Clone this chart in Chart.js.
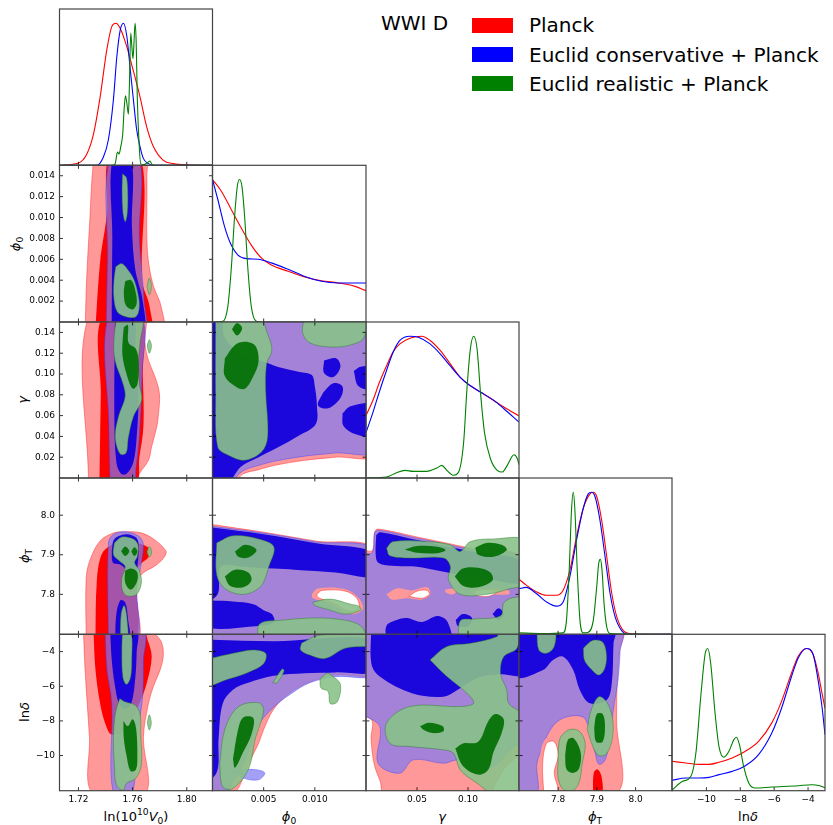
<!DOCTYPE html>
<html lang="en">
<head>
<meta charset="UTF-8">
<title>WWI D triangle plot</title>
<script src="https://cdn.jsdelivr.net/npm/chart.js"></script>
<style>
  body { margin: 0; background: #fff; }
  #fig { position: relative; width: 833px; height: 825px; font-family: "DejaVu Sans", sans-serif; color: #000; overflow: hidden; }
  #fig canvas { position: absolute; }
  .xlab, .ylab { position: absolute; font-size: 13px; line-height: 1; white-space: nowrap; }
  .xlab { transform: translate(-50%, -50%); }
  .ylab { transform: translate(-50%, -50%) rotate(-90deg); }
  .leg { position: absolute; font-size: 20px; line-height: 20px; white-space: nowrap; }
  .patch { position: absolute; left: 472px; width: 41px; height: 15px; }
  sub, sup { font-size: 70%; line-height: 0; }
</style>
</head>
<body>
<div id="fig">
  <div class="leg" style="left:381px;top:13px">WWI D</div>
  <div class="patch" style="top:18px;background:#ff0000"></div>
  <div class="leg" style="left:529px;top:15px">Planck</div>
  <div class="patch" style="top:47px;background:#0000ff"></div>
  <div class="leg" style="left:529px;top:45px">Euclid conservative + Planck</div>
  <div class="patch" style="top:76px;background:#008000"></div>
  <div class="leg" style="left:529px;top:74px">Euclid realistic + Planck</div>

  <div class="xlab" style="left:136px;top:816px">ln(10<sup>10</sup><i>V</i><sub>0</sub>)</div>
  <div class="xlab" style="left:289px;top:816px"><i>ϕ</i><sub>0</sub></div>
  <div class="xlab" style="left:442px;top:816px"><i>γ</i></div>
  <div class="xlab" style="left:595px;top:816px"><i>ϕ</i><sub>T</sub></div>
  <div class="xlab" style="left:748px;top:816px">ln<i>δ</i></div>

  <div class="ylab" style="left:15px;top:244px"><i>ϕ</i><sub>0</sub></div>
  <div class="ylab" style="left:22px;top:400px"><i>γ</i></div>
  <div class="ylab" style="left:24px;top:556px"><i>ϕ</i><sub>T</sub></div>
  <div class="ylab" style="left:24px;top:712px">ln<i>δ</i></div>
</div>

<script>
// ---- axes: ranges, ticks, tick labels ----
const v0Range = [1.706, 1.819];
const v0Ticks = [1.72, 1.76, 1.80];
const v0Labels = ['1.72', '1.76', '1.80'];

const phi0Range = [0, 0.015];
const phi0XTicks = [0.005, 0.010];
const phi0XLabels = ['0.005', '0.010'];
const phi0YTicks = [0.002, 0.004, 0.006, 0.008, 0.010, 0.012, 0.014];
const phi0YLabels = ['0.002', '0.004', '0.006', '0.008', '0.010', '0.012', '0.014'];

const gammaRange = [0, 0.15];
const gammaXTicks = [0.05, 0.10];
const gammaXLabels = ['0.05', '0.10'];
const gammaYTicks = [0.02, 0.04, 0.06, 0.08, 0.10, 0.12, 0.14];
const gammaYLabels = ['0.02', '0.04', '0.06', '0.08', '0.10', '0.12', '0.14'];

const phiTRange = [7.699, 8.094];
const phiTTicks = [7.8, 7.9, 8.0];
const phiTLabels = ['7.8', '7.9', '8.0'];

const lnDRange = [-12.03, -3.0];
const lnDTicks = [-10, -8, -6, -4];
const lnDLabels = ['\u221210', '\u22128', '\u22126', '\u22124'];

// ---- 1D marginals [x, P/Pmax] ----
const diagV0Red = [[1.7065,0],[1.72,0.016],[1.7262,0.08],[1.7311,0.22],[1.736,0.48],[1.7409,0.81],[1.7446,0.976],[1.7476,1.0],[1.7508,0.965],[1.7557,0.835],[1.7601,0.68],[1.7655,0.48],[1.7704,0.27],[1.7754,0.13],[1.7827,0.035],[1.7901,0.012],[1.80,0.003],[1.819,0]];
const diagV0Blue = [[1.7065,0],[1.7335,0],[1.7385,0.06],[1.7421,0.18],[1.7458,0.46],[1.7483,0.76],[1.7508,0.95],[1.7532,1.0],[1.7557,0.91],[1.7581,0.69],[1.7606,0.46],[1.763,0.25],[1.7655,0.13],[1.768,0.047],[1.7717,0.012],[1.7754,0],[1.819,0]];
const diagV0Green = [[1.7065,0],[1.7446,0],[1.7471,0.01],[1.7488,0.094],[1.75,0.08],[1.7512,0.13],[1.7527,0.22],[1.7537,0.39],[1.7547,0.49],[1.7557,0.44],[1.7569,0.36],[1.7576,0.55],[1.7586,0.93],[1.7594,0.84],[1.7603,0.75],[1.7611,0.88],[1.7618,1.0],[1.7626,0.88],[1.7635,0.46],[1.7648,0.15],[1.766,0.01],[1.7685,0.005],[1.7717,0.024],[1.7729,0.03],[1.7741,0.008],[1.7766,0],[1.819,0]];

const diagPhi0Red = [[0,1.0],[0.00085,0.92],[0.00183,0.79],[0.00281,0.66],[0.00379,0.54],[0.00477,0.45],[0.00575,0.40],[0.00739,0.356],[0.00902,0.316],[0.01065,0.29],[0.01229,0.274],[0.01392,0.25],[0.015,0.22]];
const diagPhi0Blue = [[0,1.0],[0.00052,0.86],[0.00118,0.67],[0.00183,0.54],[0.00248,0.47],[0.0033,0.445],[0.00444,0.44],[0.00575,0.415],[0.00739,0.37],[0.00902,0.32],[0.01065,0.286],[0.01229,0.274],[0.015,0.274]];
const diagPhi0Green = [[0,0],[0.00101,0.005],[0.0015,0.11],[0.00183,0.37],[0.00216,0.74],[0.00242,0.95],[0.00265,1.0],[0.00288,0.95],[0.00314,0.74],[0.00346,0.37],[0.00379,0.11],[0.00428,0.005],[0.00477,0],[0.015,0]];

const diagGammaRed = [[0,0.44],[0.0069,0.55],[0.0135,0.68],[0.0201,0.79],[0.0266,0.89],[0.0332,0.946],[0.0431,0.986],[0.0546,1.0],[0.0628,0.97],[0.0727,0.90],[0.0826,0.805],[0.0924,0.71],[0.1023,0.65],[0.1122,0.606],[0.1253,0.547],[0.1352,0.5],[0.15,0.437]];
const diagGammaBlue = [[0,0.32],[0.0069,0.465],[0.0135,0.617],[0.0201,0.758],[0.0266,0.887],[0.0332,0.97],[0.0431,1.0],[0.0513,0.993],[0.0628,0.946],[0.0727,0.876],[0.0826,0.79],[0.0924,0.71],[0.1023,0.65],[0.1122,0.606],[0.1253,0.547],[0.1352,0.488],[0.15,0.394]];
const diagGammaGreen = [[0,0],[0.0201,0.007],[0.0299,0.037],[0.0382,0.054],[0.0464,0.047],[0.0595,0.047],[0.0694,0.07],[0.0743,0.089],[0.0793,0.054],[0.0859,0.019],[0.0908,0.042],[0.0957,0.25],[0.099,0.63],[0.1023,0.91],[0.1056,1.0],[0.1089,0.91],[0.1122,0.606],[0.1161,0.324],[0.122,0.136],[0.1286,0.054],[0.1336,0.042],[0.1385,0.089],[0.1451,0.164],[0.1484,0.136],[0.15,0.094]];

const diagPhiTRed = [[7.698,0.39],[7.7177,0.346],[7.7437,0.30],[7.7697,0.275],[7.7957,0.275],[7.813,0.31],[7.8303,0.45],[7.8476,0.687],[7.8649,0.887],[7.8823,0.988],[7.8909,1.0],[7.8996,0.97],[7.9126,0.80],[7.9255,0.546],[7.9385,0.287],[7.9515,0.122],[7.9688,0.024],[7.9861,0.005],[8.0208,0],[8.095,0]];
const diagPhiTBlue = [[7.698,0.32],[7.7177,0.33],[7.7437,0.287],[7.7697,0.228],[7.7957,0.198],[7.813,0.228],[7.8303,0.405],[7.8476,0.663],[7.8649,0.887],[7.8779,0.988],[7.8866,1.0],[7.8952,0.97],[7.9082,0.80],[7.9212,0.546],[7.9342,0.287],[7.9472,0.122],[7.9645,0.024],[7.9818,0],[8.095,0]];
const diagPhiTGreen = [[7.698,0.01],[7.761,0.005],[7.813,0.01],[7.8216,0.1],[7.8286,0.45],[7.8346,0.875],[7.839,1.0],[7.8433,0.875],[7.8494,0.45],[7.8563,0.1],[7.8649,0.01],[7.8779,0.015],[7.8909,0.1],[7.8996,0.334],[7.9048,0.5],[7.9091,0.527],[7.9134,0.45],[7.9186,0.216],[7.9255,0.052],[7.9342,0.005],[8.095,0]];

const diagLnDRed = [[-12.03,0.207],[-11.21,0.195],[-10.43,0.185],[-9.84,0.185],[-9.26,0.2],[-8.48,0.23],[-7.70,0.277],[-6.92,0.347],[-6.14,0.477],[-5.56,0.63],[-4.97,0.83],[-4.58,0.946],[-4.09,1.0],[-3.70,0.958],[-3.41,0.83],[-3.18,0.688],[-3.0,0.58]];
const diagLnDBlue = [[-12.03,0.073],[-11.21,0.089],[-10.43,0.089],[-9.84,0.094],[-9.26,0.113],[-8.48,0.136],[-7.70,0.176],[-6.92,0.254],[-6.14,0.406],[-5.56,0.582],[-4.97,0.805],[-4.58,0.934],[-4.09,1.0],[-3.70,0.958],[-3.41,0.78],[-3.18,0.594],[-3.0,0.394]];
const diagLnDGreen = [[-12.03,0.005],[-11.40,0.066],[-10.92,0.1],[-10.62,0.265],[-10.33,0.664],[-10.08,0.958],[-9.92,1.0],[-9.75,0.9],[-9.49,0.547],[-9.26,0.312],[-8.97,0.235],[-8.67,0.277],[-8.38,0.359],[-8.23,0.376],[-8.05,0.324],[-7.80,0.171],[-7.50,0.054],[-7.12,0.019],[-6.14,0.026],[-4.58,0.035],[-3.80,0.042],[-3.31,0.035],[-3.0,0.02]];

// ---- 2D contours: polygons of [x, y] vertices ----
// ln(10^10 V0) vs phi0
const v0Phi0RedOut = [[[1.7249,-0.001],[1.726,0.004],[1.7285,0.010],[1.7305,0.0145],[1.733,0.0158],[1.769,0.0158],[1.7705,0.014],[1.7705,0.008],[1.772,0.0055],[1.7755,0.0034],[1.781,0.0015],[1.7815,-0.001]]];
const v0Phi0RedIn = [[[1.7323,-0.001],[1.736,0.0058],[1.741,0.0104],[1.743,0.0158],[1.766,0.0158],[1.767,0.004],[1.7725,0.0015],[1.7725,-0.001]]];
const v0Phi0BlueOut = [[[1.7404,-0.001],[1.7415,0.006],[1.7434,0.0158],[1.7643,0.0158],[1.765,0.008],[1.7685,0.002],[1.7685,-0.001]]];
const v0Phi0BlueIn = [[[1.7445,-0.001],[1.745,0.008],[1.7455,0.0158],[1.7586,0.0158],[1.7595,0.009],[1.762,0.005],[1.7675,0.002],[1.7675,-0.001]]];
const v0Phi0GreenOut = [
  [[1.7525,0.0142],[1.7555,0.0138],[1.7565,0.012],[1.756,0.0103],[1.7545,0.0096],[1.7528,0.0105],[1.7522,0.0125]],
  [[1.7475,0.0053],[1.752,0.0056],[1.7565,0.005],[1.7605,0.0042],[1.7635,0.003],[1.765,0.0015],[1.7625,0.0005],[1.755,0.0005],[1.7485,0.001],[1.746,0.0025],[1.7462,0.004]],
  [[1.7707,0.0034],[1.7723,0.0042],[1.7739,0.0034],[1.7723,0.0026]]];
const v0Phi0GreenIn = [[[1.7545,0.0039],[1.759,0.004],[1.762,0.003],[1.763,0.0018],[1.760,0.0012],[1.755,0.0016],[1.7535,0.0028]]];

// ln(10^10 V0) vs gamma
const v0GammaRedOut = [[[1.7274,-0.005],[1.7274,0.155],[1.768,0.155],[1.769,0.13],[1.7717,0.113],[1.7766,0.097],[1.7798,0.081],[1.779,0.06],[1.7778,0.049],[1.774,0.03],[1.7717,0.017],[1.765,0.004],[1.763,-0.005]]];
const v0GammaRedIn = [[[1.7355,-0.005],[1.7365,0.08],[1.7375,0.155],[1.766,0.155],[1.7675,0.10],[1.768,0.05],[1.765,0.02],[1.762,-0.005]]];
const v0GammaBlueOut = [[[1.7434,-0.005],[1.7425,0.05],[1.7421,0.155],[1.7667,0.155],[1.767,0.10],[1.765,0.04],[1.7625,0.01],[1.7605,-0.005]]];
const v0GammaBlueIn = [[[1.747,0.155],[1.7605,0.155],[1.762,0.11],[1.7643,0.08],[1.763,0.04],[1.7605,0.015],[1.7555,0.004],[1.7515,0.004],[1.748,0.015],[1.7465,0.06]]];
const v0GammaGreenOut = [
  [[1.748,0.155],[1.7463,0.133],[1.747,0.113],[1.753,0.090],[1.7544,0.078],[1.7495,0.059],[1.7471,0.039],[1.7508,0.023],[1.7552,0.024],[1.7569,0.039],[1.7606,0.059],[1.7667,0.075],[1.765,0.09],[1.7643,0.113],[1.7655,0.13],[1.7667,0.155]],
  [[1.7707,0.127],[1.7723,0.133],[1.7739,0.127],[1.7723,0.120]]];
const v0GammaGreenIn = [[[1.7535,0.145],[1.7565,0.147],[1.757,0.13],[1.7625,0.124],[1.7645,0.11],[1.7635,0.09],[1.760,0.086],[1.7555,0.10],[1.7525,0.118],[1.7528,0.135]]];

// ln(10^10 V0) vs phi_T
const v0PhiTRedOut = [[[1.7257,7.68],[1.7257,7.84],[1.7286,7.8875],[1.736,7.935],[1.7458,7.955],[1.7532,7.958],[1.7655,7.956],[1.7754,7.94],[1.7845,7.91],[1.7835,7.895],[1.7778,7.875],[1.7655,7.846],[1.763,7.80],[1.763,7.68]]];
const v0PhiTRedIn = [[[1.7325,7.68],[1.7335,7.83],[1.737,7.90],[1.7445,7.925],[1.756,7.935],[1.7655,7.928],[1.7725,7.915],[1.772,7.895],[1.7655,7.875],[1.7625,7.85],[1.7615,7.68]]];
const v0PhiTBlueOut = [[[1.7421,7.68],[1.7421,7.93],[1.746,7.952],[1.7544,7.958],[1.762,7.952],[1.7665,7.94],[1.768,7.92],[1.7655,7.86],[1.763,7.82],[1.763,7.68]]];
const v0PhiTBlueIn = [
  [[1.7446,7.91],[1.7465,7.94],[1.755,7.952],[1.762,7.945],[1.7643,7.93],[1.7635,7.87],[1.761,7.845],[1.7565,7.86],[1.751,7.875],[1.7455,7.88]],
  [[1.747,7.68],[1.748,7.75],[1.751,7.785],[1.7545,7.78],[1.7565,7.74],[1.7575,7.68]]];
const v0PhiTGreenOut = [
  [[1.7465,7.93],[1.752,7.945],[1.7605,7.94],[1.764,7.925],[1.7635,7.895],[1.7615,7.88],[1.765,7.86],[1.7665,7.83],[1.763,7.80],[1.756,7.796],[1.7525,7.81],[1.752,7.84],[1.7545,7.87],[1.750,7.885],[1.7458,7.90]],
  [[1.7508,7.68],[1.7515,7.75],[1.7537,7.772],[1.7555,7.75],[1.7562,7.68]],
  [[1.7705,7.907],[1.7723,7.921],[1.7741,7.907],[1.7723,7.894]]];
const v0PhiTGreenIn = [
  [[1.7515,7.909],[1.7545,7.921],[1.7575,7.909],[1.7545,7.897]],
  [[1.759,7.908],[1.7613,7.919],[1.7636,7.908],[1.7613,7.897]],
  [[1.7545,7.86],[1.759,7.865],[1.7635,7.855],[1.763,7.83],[1.7585,7.812],[1.7545,7.83]]];

// ln(10^10 V0) vs ln delta
const v0LnDRedOut = [[[1.7237,-2.8],[1.7249,-5.06],[1.7281,-8.9],[1.7306,-12.2],[1.7692,-12.2],[1.768,-8.9],[1.7717,-6.98],[1.7754,-6.0],[1.7803,-5.06],[1.7827,-4.2],[1.781,-3.4],[1.775,-2.9],[1.772,-2.8]]];
const v0LnDRedIn = [[[1.7311,-2.8],[1.7325,-5.0],[1.736,-7.0],[1.740,-8.2],[1.7446,-8.8],[1.755,-8.5],[1.765,-7.0],[1.7704,-5.83],[1.7741,-4.3],[1.771,-3.3],[1.768,-2.8]]];
const v0LnDBlueOut = [[[1.7397,-2.8],[1.741,-5.0],[1.7446,-7.0],[1.7458,-12.2],[1.7594,-12.2],[1.762,-9.5],[1.765,-8.0],[1.7675,-6.5],[1.768,-4.5],[1.768,-2.8]]];
const v0LnDBlueIn = [[[1.7434,-2.8],[1.7446,-4.5],[1.747,-6.0],[1.750,-7.0],[1.7545,-7.3],[1.759,-7.0],[1.762,-5.5],[1.763,-4.0],[1.763,-2.8]]];
const v0LnDGreenOut = [
  [[1.7525,-2.8],[1.7586,-2.8],[1.7594,-4.5],[1.7585,-5.5],[1.7555,-5.9],[1.7528,-5.5],[1.752,-4.0]],
  [[1.7505,-6.7],[1.7545,-6.9],[1.762,-7.1],[1.7655,-7.6],[1.766,-8.8],[1.7665,-10.5],[1.7625,-11.3],[1.7555,-11.6],[1.753,-12.0],[1.748,-11.7],[1.7465,-10.5],[1.7458,-9.2],[1.7465,-8.0],[1.748,-7.3]],
  [[1.7708,-8.1],[1.7723,-7.65],[1.7738,-8.1],[1.7723,-8.52]]];
const v0LnDGreenIn = [[[1.7532,-8.0],[1.7565,-8.3],[1.760,-7.9],[1.7625,-8.4],[1.7635,-10.0],[1.7625,-10.8],[1.7585,-10.9],[1.7555,-10.0],[1.7535,-9.0]]];

// phi0 vs gamma
const phi0GammaRedOut = [[[-0.001,0.155],[0.016,0.155],[0.016,0.024],[0.012,0.02],[0.009,0.017],[0.006,0.012],[0.0045,0.008],[0.003,0.004],[0.002,-0.005],[-0.001,-0.005]]];
const phi0GammaBlueOut = [[[-0.001,0.155],[0.016,0.155],[0.016,0.0276],[0.012,0.024],[0.009,0.021],[0.006,0.016],[0.0045,0.012],[0.003,0.007],[0.0015,-0.005],[-0.001,-0.005]]];
const phi0GammaBlueIn = [
  [[-0.001,0.155],[0.0008,0.155],[0.0012,0.135],[0.003,0.118],[0.005,0.112],[0.0065,0.1065],[0.0085,0.102],[0.0097,0.099],[0.010,0.088],[0.0102,0.07],[0.0101,0.052],[0.0085,0.041],[0.0065,0.030],[0.0045,0.020],[0.0028,0.011],[0.0014,-0.005],[-0.001,-0.005]],
  [[0.0109,0.113],[0.0121,0.115],[0.0125,0.107],[0.0118,0.097],[0.0109,0.101]],
  [[0.0108,0.082],[0.0118,0.091],[0.0127,0.088],[0.0125,0.077],[0.0113,0.067],[0.0103,0.070]],
  [[0.0138,0.103],[0.0145,0.107],[0.016,0.106],[0.016,0.086],[0.0143,0.088]],
  [[0.0127,0.062],[0.0135,0.069],[0.016,0.07],[0.016,0.040],[0.014,0.042],[0.0128,0.05]]];
const phi0GammaGreenOut = [
  [[0.0003,0.155],[0.0045,0.155],[0.0054,0.138],[0.0058,0.123],[0.0053,0.110],[0.0052,0.085],[0.0054,0.04],[0.0048,0.025],[0.0031,0.017],[0.0015,0.022],[0.0005,0.03],[0.0003,0.08]],
  [[0.009,0.155],[0.0148,0.155],[0.0148,0.135],[0.0135,0.128],[0.0115,0.126],[0.0095,0.13],[0.0088,0.14]]];
const phi0GammaGreenIn = [
  [[0.0012,0.115],[0.0022,0.128],[0.0032,0.131],[0.0042,0.127],[0.0045,0.112],[0.0040,0.098],[0.0032,0.086],[0.0024,0.087],[0.0012,0.098]],
  [[0.0019,0.143],[0.0024,0.149],[0.0029,0.144],[0.0024,0.137]]];

// phi0 vs phi_T
const phi0PhiTRedOut = [[[-0.001,7.98],[0.005,7.957],[0.010,7.935],[0.016,7.91],[0.016,7.68],[-0.001,7.68]]];
const phi0PhiTBlueOut = [[[-0.001,7.975],[0.005,7.955],[0.010,7.933],[0.016,7.907],[0.016,7.68],[-0.001,7.68]]];
const phi0PhiTPink = [[[0.0097,7.80],[0.0103,7.815],[0.013,7.813],[0.0143,7.79],[0.0147,7.762],[0.0135,7.75],[0.0115,7.777],[0.0098,7.79]]];
const phi0PhiTHoles = [[[0.0102,7.80],[0.0107,7.81],[0.013,7.808],[0.0141,7.79],[0.0143,7.765],[0.0135,7.757],[0.0117,7.78],[0.0103,7.792]]];
const phi0PhiTBlueIn = [
  [[-0.001,7.972],[0.005,7.952],[0.010,7.93],[0.016,7.904],[0.016,7.846],[0.012,7.855],[0.008,7.862],[0.006,7.865],[0.003,7.87],[0.0008,7.87],[0.0005,7.80],[-0.001,7.78]],
  [[-0.001,7.785],[0.002,7.782],[0.004,7.775],[0.005,7.76],[0.0058,7.75],[0.006,7.73],[0.0045,7.72],[-0.001,7.72]]];
const phi0PhiTGreenOut = [
  [[0.0004,7.93],[0.002,7.948],[0.0045,7.94],[0.006,7.92],[0.0055,7.87],[0.0047,7.82],[0.003,7.80],[0.0012,7.815],[0.0004,7.85]],
  [[0.0045,7.68],[0.0046,7.725],[0.007,7.735],[0.0095,7.74],[0.012,7.738],[0.0142,7.725],[0.015,7.70],[0.015,7.68]],
  [[0.0098,7.78],[0.0115,7.788],[0.0135,7.775],[0.0143,7.77],[0.0145,7.76],[0.013,7.75],[0.0115,7.76],[0.010,7.772]]];
const phi0PhiTGreenIn = [
  [[0.0022,7.908],[0.0032,7.925],[0.0043,7.912],[0.0035,7.893],[0.0025,7.895]],
  [[0.0012,7.845],[0.0022,7.862],[0.0035,7.855],[0.0038,7.835],[0.003,7.818],[0.0017,7.822]]];

// phi0 vs ln delta
const phi0LnDRedOut = [[[-0.001,-2.8],[0.016,-2.8],[0.016,-5.25],[0.012,-5.35],[0.0095,-5.75],[0.0075,-6.4],[0.006,-7.3],[0.005,-8.5],[0.0045,-9.3],[0.0035,-10.5],[0.003,-11.3],[0.002,-12.2],[-0.001,-12.2]]];
const phi0LnDBlueOut = [
  [[-0.001,-2.8],[0.016,-2.8],[0.016,-5.3],[0.012,-5.45],[0.0095,-5.8],[0.0075,-6.5],[0.006,-7.2],[0.0045,-8.2],[0.004,-9.0],[0.003,-10.5],[0.002,-11.5],[0.0012,-12.2],[-0.001,-12.2]],
  [[0.002,-10.9],[0.004,-10.8],[0.0051,-11.0],[0.0045,-11.4],[0.003,-11.3]]];
const phi0LnDBlueIn = [[[-0.001,-3.3],[0.006,-3.4],[0.016,-3.35],[0.016,-5.1],[0.012,-5.2],[0.009,-5.25],[0.006,-5.4],[0.0035,-5.8],[0.002,-6.2],[0.001,-7],[0.0006,-9],[0.0004,-11],[-0.001,-11.5]]];
const phi0LnDGreenOut = [
  [[-0.001,-4.5],[0.002,-4.1],[0.004,-3.9],[0.0052,-4.1],[0.005,-4.7],[0.0035,-5.2],[0.0015,-5.6],[-0.001,-6.0]],
  [[0.0087,-3.5],[0.0105,-3.05],[0.016,-3.05],[0.016,-3.6],[0.013,-3.8],[0.011,-4.4],[0.0095,-4.2],[0.0086,-3.9]],
  [[0.0059,-5.8],[0.0068,-5.0],[0.007,-5.1],[0.0063,-5.8]],
  [[0.0105,-5.6],[0.0112,-5.25],[0.0117,-5.4],[0.0125,-5.9],[0.0122,-6.9],[0.0115,-7.0],[0.0113,-6.3],[0.0106,-6.1]],
  [[0.0007,-10.5],[0.0012,-8.5],[0.0025,-7.2],[0.0045,-6.95],[0.005,-7.4],[0.0042,-9.0],[0.0035,-10.8],[0.002,-11.9],[0.001,-11.8]]];
const phi0LnDGreenIn = [[[0.002,-10.2],[0.0025,-8.5],[0.003,-7.8],[0.004,-7.85],[0.0038,-8.8],[0.003,-9.8],[0.0022,-10.7]]];

// gamma vs phi_T
const gammaPhiTRedOut = [[[-0.005,7.68],[-0.005,7.91],[0.006,7.91],[0.0085,7.958],[0.012,7.965],[0.05,7.945],[0.10,7.918],[0.155,7.888],[0.155,7.68]]];
const gammaPhiTBlueOut = [[[-0.005,7.68],[-0.005,7.90],[0.006,7.905],[0.0086,7.955],[0.012,7.962],[0.05,7.942],[0.10,7.915],[0.155,7.885],[0.155,7.68]]];
const gammaPhiTPink = [
  [[0.02,7.80],[0.03,7.815],[0.045,7.81],[0.06,7.818],[0.063,7.80],[0.055,7.787],[0.04,7.79],[0.025,7.787]],
  [[0.078,7.812],[0.085,7.815],[0.089,7.81],[0.085,7.80],[0.078,7.805]],
  [[0.104,7.81],[0.12,7.815],[0.14,7.81],[0.14,7.80],[0.12,7.80],[0.104,7.80]]];
const gammaPhiTHoles = [
  [[0.042,7.795],[0.05,7.808],[0.06,7.81],[0.062,7.80],[0.055,7.79]],
  [[0.107,7.81],[0.12,7.812],[0.128,7.805],[0.12,7.795],[0.108,7.798]]];
const gammaPhiTBlueIn = [
  [[0.01,7.95],[0.014,7.957],[0.05,7.937],[0.10,7.91],[0.156,7.882],[0.156,7.83],[0.12,7.838],[0.09,7.85],[0.07,7.86],[0.05,7.87],[0.025,7.872],[0.012,7.88],[0.0095,7.90]],
  [[0.02,7.68],[0.02,7.72],[0.03,7.735],[0.04,7.74],[0.055,7.73],[0.07,7.745],[0.08,7.73],[0.082,7.68]],
  [[0.088,7.735],[0.095,7.75],[0.104,7.74],[0.1,7.72],[0.09,7.72]],
  [[0.124,7.75],[0.13,7.765],[0.135,7.75],[0.13,7.735]]];
const gammaPhiTGreenOut = [
  [[0.0201,7.9167],[0.0266,7.9333],[0.0595,7.9333],[0.0826,7.925],[0.0924,7.9083],[0.1023,7.9333],[0.1253,7.94],[0.156,7.935],[0.156,7.829],[0.1385,7.8125],[0.1188,7.80],[0.0924,7.80],[0.0809,7.8375],[0.0826,7.8708],[0.076,7.8917],[0.0431,7.8917],[0.0234,7.8975]],
  [[0.0908,7.68],[0.0924,7.733],[0.1056,7.7375],[0.1319,7.746],[0.1352,7.779],[0.1451,7.792],[0.156,7.7875],[0.156,7.68]]];
const gammaPhiTGreenIn = [
  [[0.038,7.913],[0.05,7.922],[0.07,7.92],[0.078,7.912],[0.07,7.904],[0.05,7.905]],
  [[0.107,7.918],[0.118,7.93],[0.133,7.925],[0.138,7.912],[0.125,7.895],[0.11,7.9]],
  [[0.087,7.845],[0.095,7.865],[0.11,7.867],[0.122,7.855],[0.124,7.835],[0.11,7.818],[0.095,7.822]]];

// gamma vs ln delta
const gammaLnDRedOut = [[[-0.005,-2.8],[0.155,-2.8],[0.155,-9.4],[0.135,-10.8],[0.128,-11.5],[0.12,-12.2],[0.018,-12.2],[0.014,-11.5],[0.008,-10.5],[0.005,-9.0],[0.006,-8.0],[-0.005,-7.5]]];
const gammaLnDBlueOut = [[[-0.005,-2.8],[0.155,-2.8],[0.155,-9.29],[0.1451,-9.48],[0.1253,-10.63],[0.1089,-10.83],[0.0924,-10.25],[0.076,-10.44],[0.0464,-10.25],[0.0332,-11.02],[0.0118,-10.44],[0.0135,-8.33],[-0.005,-7.37]]];
const gammaLnDBlueIn = [[[0.005,-2.8],[0.156,-2.8],[0.156,-5.3],[0.13,-5.3],[0.11,-5.5],[0.09,-6.2],[0.076,-6.6],[0.045,-6.4],[0.0135,-5.44],[0.0053,-4.7]]];
const gammaLnDGreenOut = [[[0.0628,-4.48],[0.0793,-3.71],[0.1023,-3.52],[0.1286,-3.13],[0.13,-2.8],[0.148,-2.8],[0.148,-3.8],[0.135,-4.3],[0.132,-5.3],[0.138,-6.2],[0.14,-7.0],[0.156,-7.8],[0.156,-12.2],[0.125,-12.2],[0.1089,-11.6],[0.0924,-10.83],[0.0859,-9.87],[0.076,-9.67],[0.0431,-9.48],[0.0234,-9.29],[0.0201,-8.13],[0.0431,-7.17],[0.0924,-7.17],[0.1056,-6.98],[0.099,-6.4],[0.0793,-5.44]]];
const gammaLnDGreenIn = [
  [[0.053,-8.3],[0.062,-8.1],[0.075,-8.3],[0.076,-8.6],[0.065,-8.7],[0.056,-8.5]],
  [[0.0875,-9.6],[0.095,-9.3],[0.11,-9.2],[0.12,-8.0],[0.127,-7.6],[0.135,-7.9],[0.133,-8.7],[0.125,-9.8],[0.12,-10.8],[0.11,-11.1],[0.095,-10.6]]];

// phi_T vs ln delta
const phiTLnDRedOut = [[[7.69,-2.8],[7.965,-2.8],[7.958,-4.0],[7.952,-6.0],[7.951,-8.0],[7.95,-12.2],[7.69,-12.2]]];
const phiTLnDRedIn = [[[7.89,-12.2],[7.892,-11.0],[7.902,-10.8],[7.912,-11.2],[7.913,-12.2]]];
const phiTLnDBlueOut = [[[7.69,-2.8],[7.962,-2.8],[7.96,-4.0],[7.955,-5.6],[7.945,-7.0],[7.935,-8.5],[7.93,-9.5],[7.92,-10.3],[7.905,-10.5],[7.895,-9.8],[7.87,-7.9],[7.84,-7.7],[7.80,-8.0],[7.775,-8.7],[7.76,-9.5],[7.745,-10.5],[7.745,-12.2],[7.69,-12.2]]];
const phiTLnDPink = [[[7.755,-12.2],[7.752,-10.5],[7.765,-9.1],[7.795,-9.0],[7.807,-10],[7.80,-11],[7.805,-12.2]]];
const phiTLnDHoles = [[[7.763,-12.2],[7.76,-10.5],[7.77,-9.3],[7.79,-9.2],[7.80,-10],[7.79,-11],[7.80,-12.2]]];
const phiTLnDBlueIn = [[[7.69,-2.8],[7.945,-2.8],[7.943,-3.52],[7.9385,-5.83],[7.9255,-6.79],[7.882,-6.98],[7.856,-6.21],[7.839,-5.06],[7.813,-4.29],[7.787,-4.48],[7.761,-5.06],[7.69,-5.44]]];
const phiTLnDGreenOut = [
  [[7.745,-2.8],[7.79,-2.8],[7.79,-3.7],[7.77,-4.1],[7.75,-3.9]],
  [[7.865,-3.8],[7.89,-3.35],[7.915,-3.45],[7.925,-4.2],[7.92,-5.0],[7.905,-5.35],[7.885,-5.0],[7.868,-4.5]],
  [[7.875,-8.5],[7.885,-7.4],[7.905,-6.6],[7.925,-6.9],[7.94,-7.8],[7.94,-9.0],[7.925,-9.9],[7.905,-10.0],[7.89,-9.5]],
  [[7.80,-10.2],[7.805,-9.0],[7.83,-8.5],[7.855,-8.6],[7.87,-9.3],[7.862,-10.5],[7.855,-11.5],[7.84,-12.0],[7.815,-12.0],[7.80,-11.3]]];
const phiTLnDGreenIn = [
  [[7.893,-8.4],[7.9,-7.6],[7.915,-7.6],[7.921,-8.3],[7.915,-9.2],[7.898,-9.2]],
  [[7.818,-10],[7.825,-9.1],[7.84,-9.0],[7.858,-9.8],[7.855,-10.7],[7.84,-11.0],[7.822,-10.8]]];

// ---- styling ----
const RED_OUT = 'rgba(255,0,0,0.4)', RED_IN = 'rgb(255,0,0)';
const BLUE_OUT = 'rgba(126,119,241,0.7)', BLUE_IN = 'rgba(20,0,220,0.95)';
const GREEN_OUT = 'rgba(138,194,138,0.9)', GREEN_IN = 'rgba(0,110,0,0.9)';
const PINK = 'rgb(255,153,153)', HOLE = '#ffffff';
const EDGE_RED = 'rgba(255,40,40,0.7)', EDGE_BLUE = 'rgba(60,60,255,0.6)', EDGE_GREEN = 'rgba(30,120,30,0.6)';

// panel grid in page pixels
const X_EDGES = [59.5, 212.5, 366, 519, 672, 825];
const Y_EDGES = [9, 165.3, 322, 478, 634.3, 790.7];

const AXES = [
  {range: v0Range, xt: v0Ticks, xl: v0Labels, yt: [], yl: []},
  {range: phi0Range, xt: phi0XTicks, xl: phi0XLabels, yt: phi0YTicks, yl: phi0YLabels},
  {range: gammaRange, xt: gammaXTicks, xl: gammaXLabels, yt: gammaYTicks, yl: gammaYLabels},
  {range: phiTRange, xt: phiTTicks, xl: phiTLabels, yt: phiTTicks, yl: phiTLabels},
  {range: lnDRange, xt: lnDTicks, xl: lnDLabels, yt: lnDTicks, yl: lnDLabels}
];

const DIAGS = [
  [diagV0Red, diagV0Blue, diagV0Green],
  [diagPhi0Red, diagPhi0Blue, diagPhi0Green],
  [diagGammaRed, diagGammaBlue, diagGammaGreen],
  [diagPhiTRed, diagPhiTBlue, diagPhiTGreen],
  [diagLnDRed, diagLnDBlue, diagLnDGreen]
];

// [row, col, redOut, redIn, blueOut, pink, holes, blueIn, greenOut, greenIn]
const CONTOURS = [
  [1, 0, v0Phi0RedOut, v0Phi0RedIn, v0Phi0BlueOut, [], [], v0Phi0BlueIn, v0Phi0GreenOut, v0Phi0GreenIn],
  [2, 0, v0GammaRedOut, v0GammaRedIn, v0GammaBlueOut, [], [], v0GammaBlueIn, v0GammaGreenOut, v0GammaGreenIn],
  [3, 0, v0PhiTRedOut, v0PhiTRedIn, v0PhiTBlueOut, [], [], v0PhiTBlueIn, v0PhiTGreenOut, v0PhiTGreenIn],
  [4, 0, v0LnDRedOut, v0LnDRedIn, v0LnDBlueOut, [], [], v0LnDBlueIn, v0LnDGreenOut, v0LnDGreenIn],
  [2, 1, phi0GammaRedOut, [], phi0GammaBlueOut, [], [], phi0GammaBlueIn, phi0GammaGreenOut, phi0GammaGreenIn],
  [3, 1, phi0PhiTRedOut, [], phi0PhiTBlueOut, phi0PhiTPink, phi0PhiTHoles, phi0PhiTBlueIn, phi0PhiTGreenOut, phi0PhiTGreenIn],
  [4, 1, phi0LnDRedOut, [], phi0LnDBlueOut, [], [], phi0LnDBlueIn, phi0LnDGreenOut, phi0LnDGreenIn],
  [3, 2, gammaPhiTRedOut, [], gammaPhiTBlueOut, gammaPhiTPink, gammaPhiTHoles, gammaPhiTBlueIn, gammaPhiTGreenOut, gammaPhiTGreenIn],
  [4, 2, gammaLnDRedOut, [], gammaLnDBlueOut, [], [], gammaLnDBlueIn, gammaLnDGreenOut, gammaLnDGreenIn],
  [4, 3, phiTLnDRedOut, phiTLnDRedIn, phiTLnDBlueOut, phiTLnDPink, phiTLnDHoles, phiTLnDBlueIn, phiTLnDGreenOut, phiTLnDGreenIn]
];

// inward ticks on every side + the panel frame
const framePlugin = {
  id: 'frame',
  afterDatasetsDraw(chart, args, opts) {
    const {ctx, chartArea: a, scales} = chart;
    const L = 3.5;
    ctx.save();
    ctx.strokeStyle = '#000';
    ctx.lineWidth = 0.8;
    ctx.beginPath();
    for (const v of opts.xt) {
      const px = scales.x.getPixelForValue(v);
      ctx.moveTo(px, a.bottom); ctx.lineTo(px, a.bottom - L);
      if (!opts.diag) { ctx.moveTo(px, a.top); ctx.lineTo(px, a.top + L); }
    }
    for (const v of opts.yt) {
      const py = scales.y.getPixelForValue(v);
      ctx.moveTo(a.left, py); ctx.lineTo(a.left + L, py);
      ctx.moveTo(a.right, py); ctx.lineTo(a.right - L, py);
    }
    ctx.stroke();
    ctx.strokeStyle = '#444';
    ctx.lineWidth = 1.2;
    ctx.strokeRect(a.left, a.top, a.right - a.left, a.bottom - a.top);
    ctx.restore();
  }
};

function axisOpts(ax, ticks, labels, show, axis, size) {
  return {
    type: 'linear', min: ax.range[0], max: ax.range[1], display: show,
    position: axis === 'x' ? 'bottom' : 'left',
    grid: {display: false, drawTicks: false},
    border: {display: false},
    afterBuildTicks: s => { s.ticks = ticks.map(v => ({value: v})); },
    afterFit: s => {
      if (axis === 'x') { s.height = size; s.paddingLeft = 0; s.paddingRight = 0; }
      else { s.width = size; s.paddingTop = 0; s.paddingBottom = 0; }
    },
    ticks: {
      autoSkip: false, maxRotation: 0, padding: axis === 'x' ? 4 : 4.5, color: '#000',
      font: {family: 'DejaVu Sans', size: 9},
      callback: (v, i) => labels[i]
    }
  };
}

function shapeDS(poly, color, edge) {
  const pts = poly.map(p => ({x: p[0], y: p[1]}));
  pts.push(pts[0]);
  return {
    data: pts, fill: 'shape', backgroundColor: color,
    borderColor: edge || 'rgba(0,0,0,0)', borderWidth: edge ? 0.7 : 0,
    pointRadius: 0, tension: 0.35
  };
}

function curveDS(arr, color) {
  return {
    data: arr.map(p => ({x: p[0], y: p[1]})), fill: false, borderColor: color,
    borderWidth: 1.1, pointRadius: 0, cubicInterpolationMode: 'monotone'
  };
}

const fig = document.getElementById('fig');

function addPanel(row, col, datasets, diag) {
  const xa = AXES[col], ya = AXES[row];
  const x0 = X_EDGES[col], x1 = X_EDGES[col + 1], y0 = Y_EDGES[row], y1 = Y_EDGES[row + 1];
  const showY = col === 0 && row > 0, showX = row === 4;
  const yW = showY ? 50 : 0, xH = showX ? 20 : 0;
  const left = Math.floor(x0) - 3 - yW, top = Math.floor(y0) - 3;
  const right = Math.ceil(x1) + 3, bottom = Math.ceil(y1) + 3 + xH;
  const cv = document.createElement('canvas');
  cv.width = right - left;
  cv.height = bottom - top;
  cv.style.left = left + 'px';
  cv.style.top = top + 'px';
  fig.appendChild(cv);
  new Chart(cv, {
    type: 'line',
    data: {datasets: datasets.reverse()},
    options: {
      responsive: false, animation: false, devicePixelRatio: 1, events: [],
      layout: {padding: {left: x0 - left - yW, top: y0 - top, right: right - x1, bottom: bottom - y1 - xH}},
      plugins: {
        legend: {display: false}, tooltip: {enabled: false},
        frame: {xt: xa.xt, yt: diag ? [] : ya.yt, diag: diag}
      },
      scales: {
        x: axisOpts(xa, xa.xt, xa.xl, showX, 'x', xH),
        y: diag ? {type: 'linear', min: 0, max: 1.1, display: false}
                : axisOpts(ya, ya.yt, ya.yl, showY, 'y', yW)
      }
    },
    plugins: [framePlugin]
  });
}

// diagonal 1D panels
DIAGS.forEach((d, k) => {
  addPanel(k, k, [curveDS(d[0], '#ff0000'), curveDS(d[1], '#0000ff'), curveDS(d[2], '#008000')], true);
});

// off-diagonal 2D panels, bottom layer first
CONTOURS.forEach(c => {
  const [row, col, rOut, rIn, bOut, pink, holes, bIn, gOut, gIn] = c;
  const ds = [];
  rOut.forEach(p => ds.push(shapeDS(p, RED_OUT, EDGE_RED)));
  rIn.forEach(p => ds.push(shapeDS(p, RED_IN, null)));
  bOut.forEach(p => ds.push(shapeDS(p, BLUE_OUT, EDGE_BLUE)));
  pink.forEach(p => ds.push(shapeDS(p, PINK, null)));
  holes.forEach(p => ds.push(shapeDS(p, HOLE, EDGE_RED)));
  bIn.forEach(p => ds.push(shapeDS(p, BLUE_IN, null)));
  gOut.forEach(p => ds.push(shapeDS(p, GREEN_OUT, EDGE_GREEN)));
  gIn.forEach(p => ds.push(shapeDS(p, GREEN_IN, null)));
  addPanel(row, col, ds, false);
});
</script>
</body>
</html>
